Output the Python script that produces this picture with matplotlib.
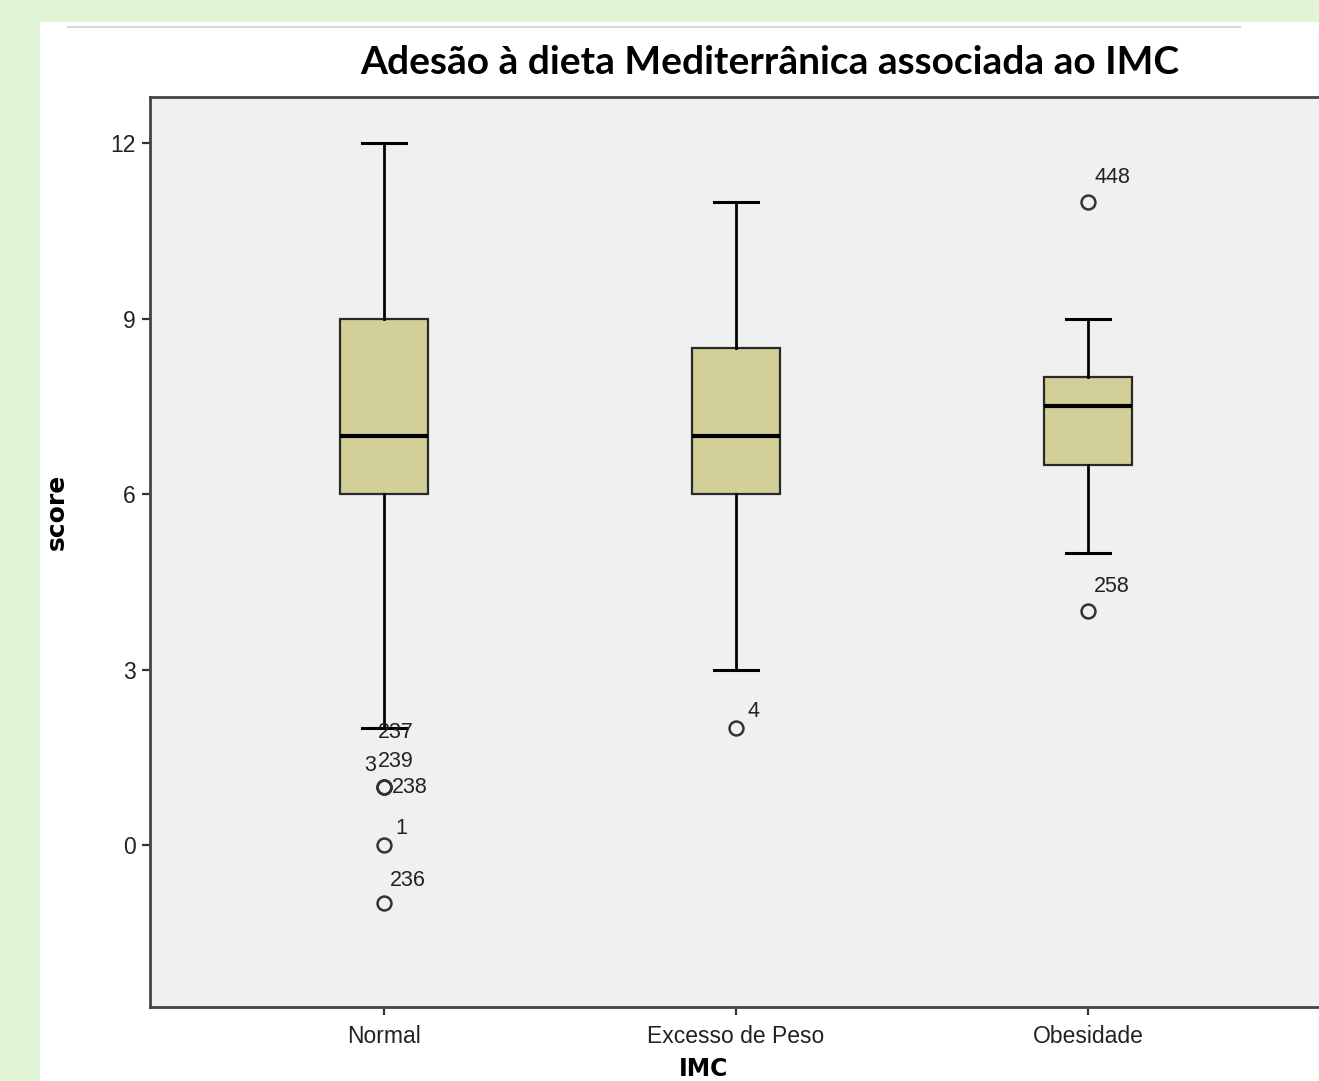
import matplotlib
matplotlib.use("Agg")
import matplotlib.pyplot as plt
from matplotlib.patches import Rectangle

# ---- data ----
categories = ["Normal", "Excesso de Peso", "Obesidade"]
whisker_low = [2, 3, 5]
q1 = [6, 6, 6.5]
median = [7, 7, 7.5]
q3 = [9, 8.5, 8]
whisker_high = [12, 11, 9]
outlier_values = [[1, 1, 1, 0, -1], [2], [11, 4]]
label_cat = [0, 0, 0, 0, 0, 0, 1, 2, 2]
label_value = [2, 1, 1, 1, 0, -1, 2, 11, 4]
label_text = ["237", "239", "3", "238", "1", "236", "4", "448", "258"]
yticks = [0, 3, 6, 9, 12]

# ---- styles / positions (pixel offsets for labels) ----
label_dx = [-6, -6, -8, 8, 11, 6, 11, 6, 6]
label_dy = [-4, 25, 21, -1, 17, 23, 17, 24, 25]
label_ha = ["left", "left", "right", "left", "left", "left", "left", "left", "left"]

W, H = 1319, 1081
fig = plt.figure(figsize=(W / 100, H / 100), dpi=100)
fig.patch.set_facecolor("#dff5d6")
fig.patches.append(Rectangle((40 / W, 0), 1, (H - 22) / H, transform=fig.transFigure,
                             facecolor="white", edgecolor="none", zorder=-10))
fig.lines.append(plt.Line2D([68 / W, 1240 / W], [(H - 27) / H] * 2, transform=fig.transFigure,
                            color="#d8d8d8", lw=1.5, zorder=-5))

ax = fig.add_axes([150 / W, (H - 1007) / H, (1335 - 150) / W, (1007 - 97) / H])
ax.set_zorder(5)
ax.set_facecolor("#f0f0f0")

stats = []
for i, c in enumerate(categories):
    stats.append(dict(label=c, whislo=whisker_low[i], q1=q1[i], med=median[i], q3=q3[i],
                      whishi=whisker_high[i], fliers=outlier_values[i]))
positions = list(range(len(categories)))
ax.bxp(stats, positions=positions, widths=0.25, patch_artist=True,
       boxprops=dict(facecolor="#d3cf98", edgecolor="#2a2a2a", linewidth=1.6),
       medianprops=dict(color="black", linewidth=3),
       whiskerprops=dict(color="black", linewidth=2),
       capprops=dict(color="black", linewidth=2.2),
       capwidths=0.125,
       flierprops=dict(marker="o", markersize=10, markerfacecolor="none",
                       markeredgecolor="#333333", markeredgewidth=1.8))

for c, v, t, dx, dy, ha in zip(label_cat, label_value, label_text, label_dx, label_dy, label_ha):
    ax.annotate(t, xy=(c, v), xytext=(dx, dy), textcoords="offset pixels",
                ha=ha, va="center", fontsize=15.5, family="Liberation Sans", color="#222222")

ax.set_xlim(-0.665, (1335 - 384) / 352)
ax.set_ylim(-2.77, 12.79)
ax.set_yticks(yticks)
ax.set_yticklabels([str(v) for v in yticks])
ax.set_xticks(positions)
ax.set_xticklabels(categories)
for lbl in ax.get_xticklabels() + ax.get_yticklabels():
    lbl.set_family("Liberation Sans")
    lbl.set_fontsize(16.5)
    lbl.set_color("#222222")
ax.tick_params(axis="both", length=6, width=1.6, color="#333333")
ax.tick_params(axis="y", pad=4)
ax.tick_params(axis="x", pad=7)
for s in ax.spines.values():
    s.set_color("#444444")
    s.set_linewidth(2)

fig.text(770 / W, (H - 63) / H, "Adesão à dieta Mediterrânica associada ao IMC",
         ha="center", va="center", fontsize=28, fontweight="bold", family="Lato")
fig.text(57 / W, (H - 512) / H, "score", rotation=90, ha="center", va="center",
         fontsize=18, fontweight="bold", family="DejaVu Sans")
fig.text(704 / W, (H - 1069) / H, "IMC", ha="center", va="center",
         fontsize=17, fontweight="bold", family="DejaVu Sans")

fig.savefig("out.png", dpi=100)
